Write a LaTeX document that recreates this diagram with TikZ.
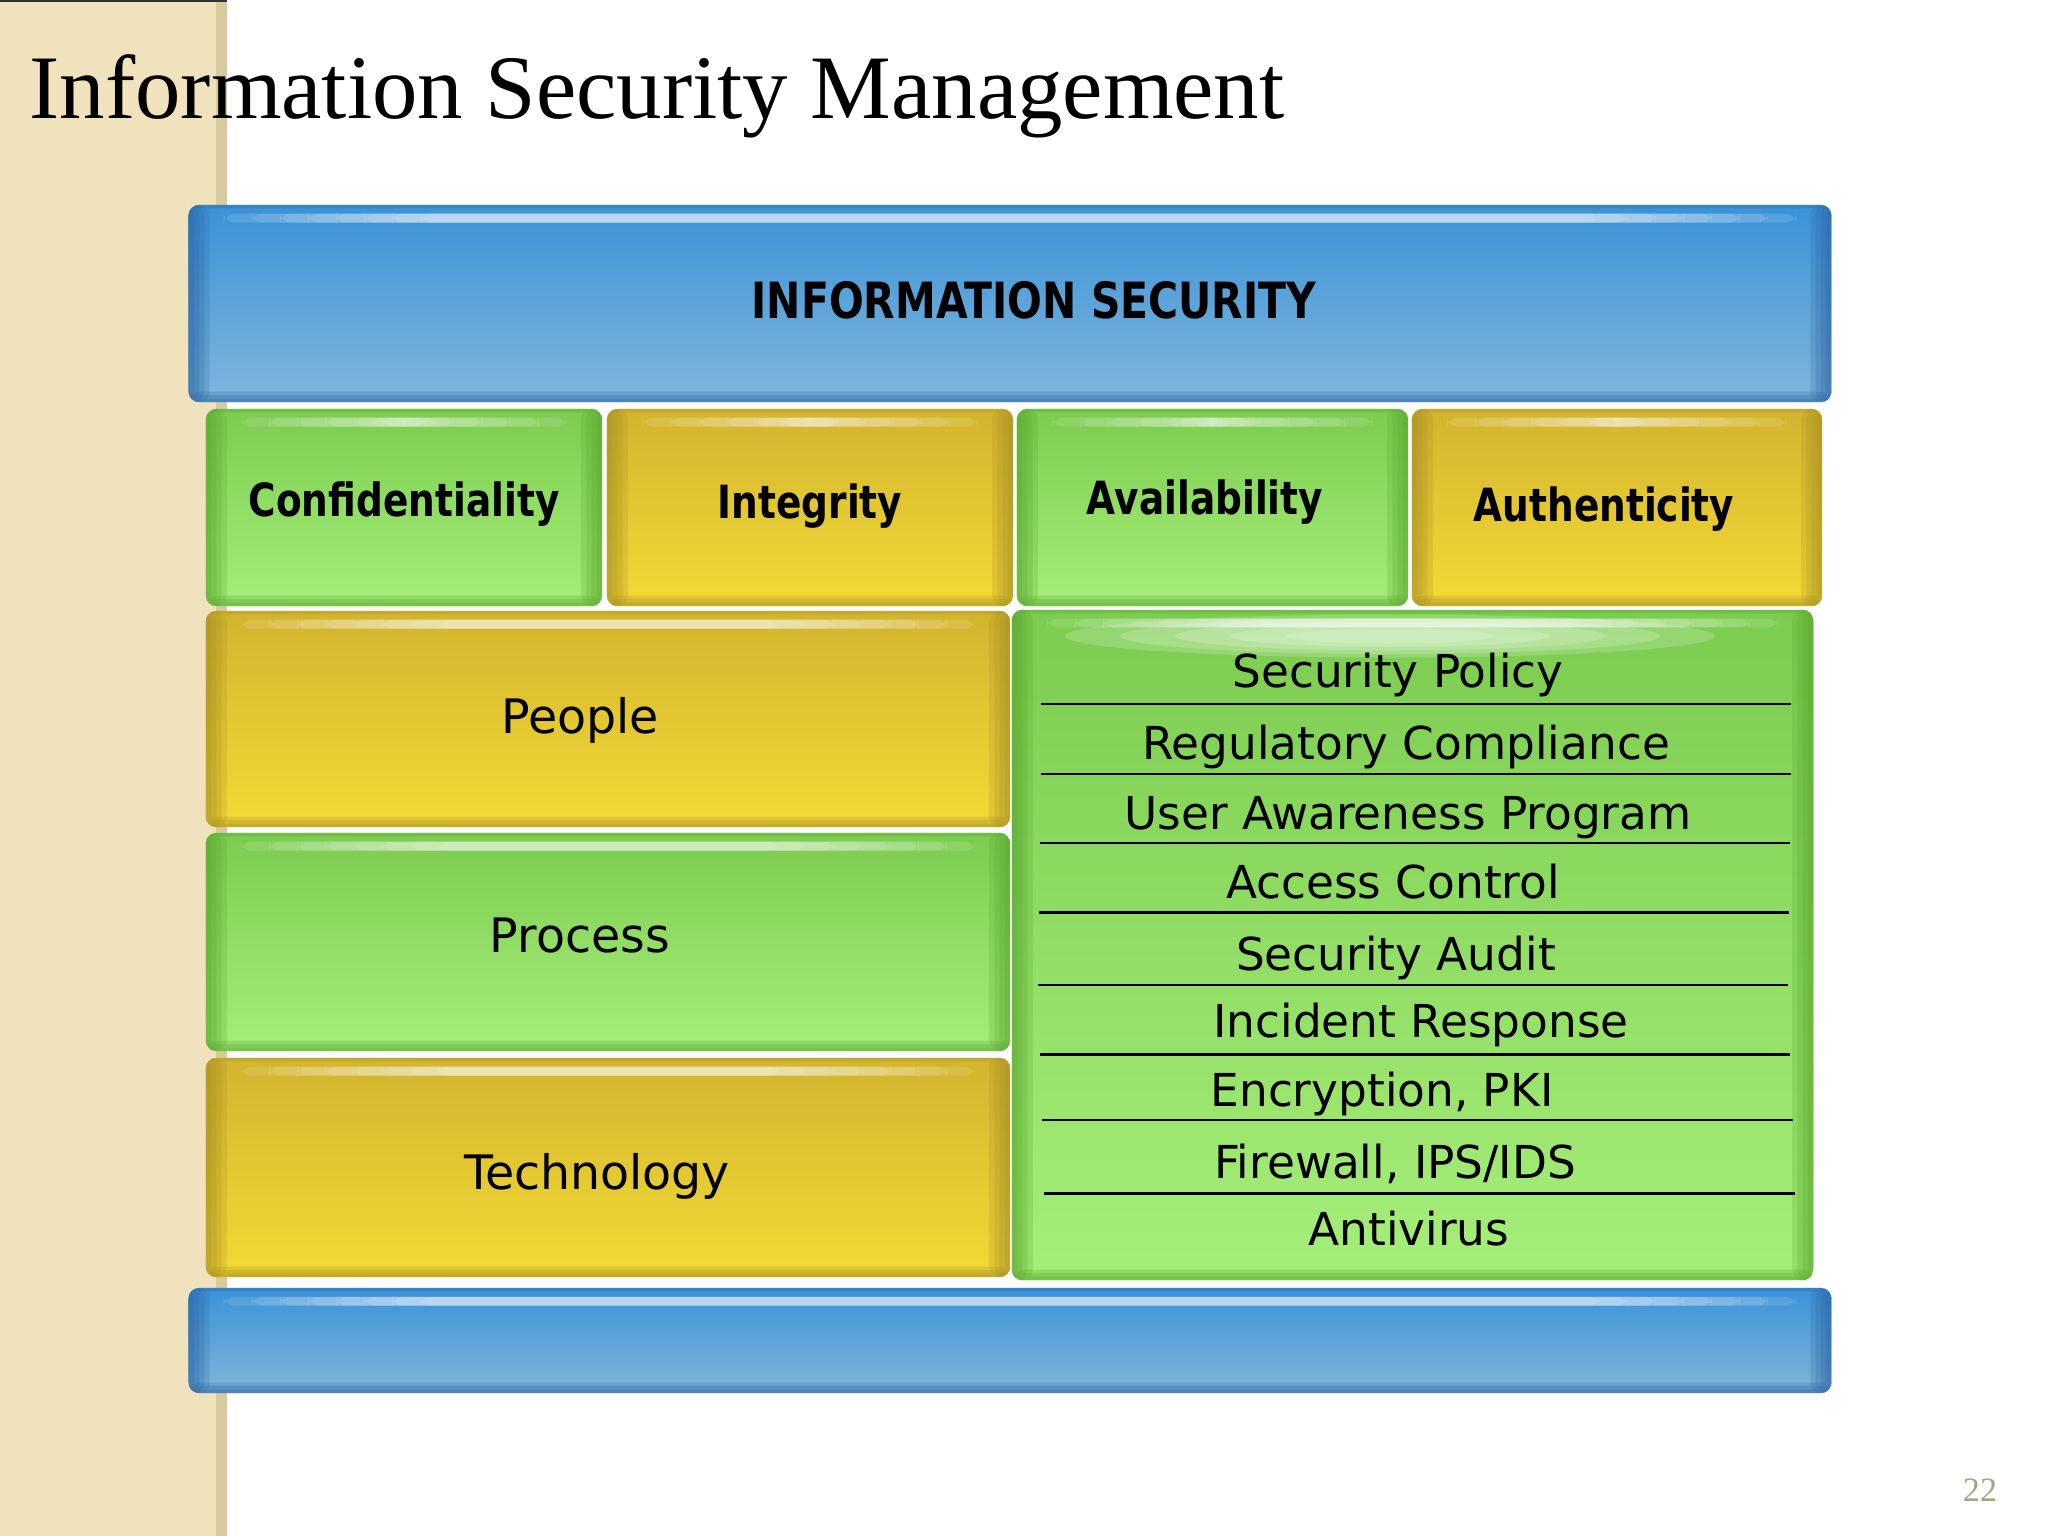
\documentclass[tikz,border=0pt]{standalone}
\usepackage{fontspec}
\setmainfont{Liberation Serif}
\newfontfamily\boxfont{DejaVu Sans}
\newfontfamily\headfont[FakeStretch=0.82]{DejaVu Sans}
\definecolor{bluetop}{HTML}{3A92D8}
\definecolor{bluebot}{HTML}{80B6DA}
\definecolor{blueedge}{HTML}{2B64A4}
\definecolor{greentop}{HTML}{7CCC50}
\definecolor{greenbot}{HTML}{A6EE7A}
\definecolor{greenedge}{HTML}{56A42C}
\definecolor{yellowtop}{HTML}{D2B42E}
\definecolor{yellowbot}{HTML}{F4DA36}
\definecolor{yellowedge}{HTML}{A68D24}
\definecolor{beige}{HTML}{EFE2BC}
\definecolor{beigedark}{HTML}{D8C99E}
\definecolor{pagegray}{HTML}{A3A283}
\tikzset{glossbox/.style={rectangle, rounded corners=3pt, inner sep=0pt, outer sep=0pt,
		top color=#1top, bottom color=#1bot,
		path picture={
			\foreach \w in {1.5,3,4.5,6} {
				\fill[#1edge, opacity=.22] (path picture bounding box.north west) rectangle ([xshift=\w pt]path picture bounding box.south west);
				\fill[#1edge, opacity=.22] ([xshift=-\w pt]path picture bounding box.north east) rectangle (path picture bounding box.south east);
			}
			\foreach \h in {1,2,3}
				\fill[#1edge, opacity=.25] ([yshift=\h pt]path picture bounding box.south west) rectangle (path picture bounding box.south east);
			\fill[#1edge, opacity=.3] (path picture bounding box.north west) rectangle ([yshift=-1pt]path picture bounding box.north east);
			\foreach \i in {0,...,7}
				\fill[white, opacity=.12] ([xshift={10pt+\i*8pt}, yshift=-2.5pt]path picture bounding box.north west) rectangle ([xshift={-10pt-\i*8pt}, yshift=-5pt]path picture bounding box.north east);
		}},
	bluebox/.style={glossbox=blue}, greenbox/.style={glossbox=green}, yellowbox/.style={glossbox=yellow}}
\tikzstyle{title}=[font=\fontsize{25.8pt}{30pt}\selectfont, inner sep=0pt, anchor=base west]
\tikzstyle{head}=[font=\headfont\bfseries\fontsize{14.2pt}{17pt}\selectfont, inner sep=0pt, anchor=base]
\tikzstyle{pillar}=[font=\headfont\bfseries\fontsize{13pt}{16pt}\selectfont, inner sep=0pt, anchor=base]
\tikzstyle{item}=[font=\boxfont\fontsize{12.9pt}{15pt}\selectfont, inner sep=0pt, anchor=base]
\tikzstyle{layer}=[font=\boxfont\fontsize{13.5pt}{16pt}\selectfont, inner sep=0pt, anchor=base]
\tikzstyle{pnum}=[font=\fontsize{9.7pt}{12pt}\selectfont, text=pagegray, inner sep=0pt]

\begin{document}
\begin{tikzpicture}[x=0.01cm, y=-0.01cm]
	\useasboundingbox[fill=white] (0,0) rectangle (2048,1536);
	% beige side strip
	\fill[beige] (0,0) rectangle (227,1536);
	\fill[beigedark] (216,0) rectangle (227,1536);
	\draw[black!80, line width=0.6pt] (0,1) -- (227,1);
	
	\node at (29,118) [title] (title) {Information Security Management};
	
	\node at (1010,303.5) [bluebox, minimum width=16.42cm, minimum height=1.97cm] (infosec) {};
	\node at (404,507.5) [greenbox, minimum width=3.96cm, minimum height=1.97cm] (conf) {};
	\node at (810,507.5) [yellowbox, minimum width=4.06cm, minimum height=1.97cm] (integ) {};
	\node at (1212.5,507.5) [greenbox, minimum width=3.91cm, minimum height=1.97cm] (avail) {};
	\node at (1617,507.5) [yellowbox, minimum width=4.10cm, minimum height=1.97cm] (authen) {};
	\node at (608,719) [yellowbox, minimum width=8.04cm, minimum height=2.16cm] (people) {};
	\node at (608,942) [greenbox, minimum width=8.04cm, minimum height=2.18cm] (process) {};
	\node at (608,1167.5) [yellowbox, minimum width=8.04cm, minimum height=2.19cm] (techn) {};
	\node at (1412.5,945) [greenbox, minimum width=8.01cm, minimum height=6.70cm] (controls) {};
	\node at (1010,1340.5) [bluebox, minimum width=16.42cm, minimum height=1.05cm] (base) {};
	
	% glare on the big box
	\foreach \r in {1,...,5}
		\fill[white, opacity=.18] (1390,636) ellipse [x radius={380-\r*55}, y radius={25-\r*3.5}];
	
	\node at (1034,318) [head] (infosecT) {INFORMATION SECURITY};
	\node at (404,516) [pillar] (confT) {Confidentiality};
	\node at (810,518.5) [pillar] (integT) {Integrity};
	\node at (1205,514.5) [pillar] (availT) {Availability};
	\node at (1604,521) [pillar] (authenT) {Authenticity};
	\node at (580,733) [layer] (peopleT) {People};
	\node at (580,952) [layer] (processT) {Process};
	\node at (597,1189) [layer] (technT) {Technology};
	
	\node at (1398,687) [item] (policy) {Security Policy};
	\node at (1406,759) [item] (compliance) {Regulatory Compliance};
	\node at (1408,829) [item] (awareness) {User Awareness Program};
	\node at (1393,898) [item] (access) {Access Control};
	\node at (1396,970.5) [item] (audit) {Security Audit};
	\node at (1421,1037.5) [item] (incident) {Incident Response};
	\node at (1382,1106.7) [item] (pki) {Encryption, PKI};
	\node at (1395,1178) [item] (firewall) {Firewall, IPS/IDS};
	\node at (1409,1245) [item] (antivirus) {Antivirus};
	
	\draw[line width=0.7pt] (1041,704) -- (1791,704);
	\draw[line width=0.7pt] (1041,774) -- (1791,774);
	\draw[line width=0.7pt] (1040,843) -- (1790,843);
	\draw[line width=0.7pt] (1039,912.5) -- (1789,912.5);
	\draw[line width=0.7pt] (1038,985) -- (1788,985);
	\draw[line width=0.7pt] (1040,1054.5) -- (1790,1054.5);
	\draw[line width=0.7pt] (1042,1120) -- (1793,1120);
	\draw[line width=0.7pt] (1044,1193.5) -- (1795,1193.5);
	
	\node at (1980,1490) [pnum] (page) {22};
\end{tikzpicture}
\end{document}
